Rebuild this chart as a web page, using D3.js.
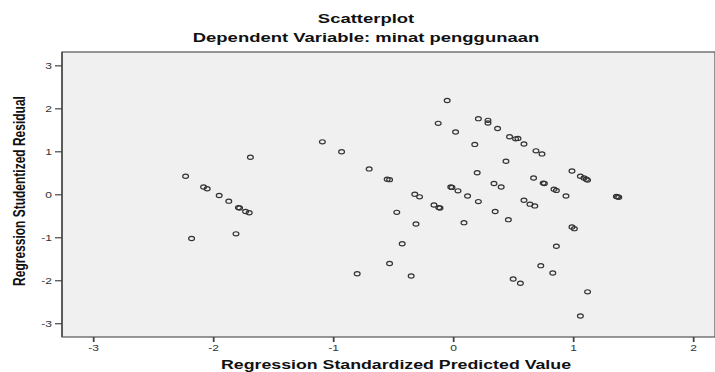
<!DOCTYPE html>
<html>
<head>
<meta charset="utf-8">
<script src="https://cdn.jsdelivr.net/npm/d3@7"></script>
<style>
  body { margin: 0; background: #fff; }
  svg text { font-family: "Liberation Sans", Arial, sans-serif; }
</style>
</head>
<body>
<svg id="chart" width="715" height="372"></svg>
<script>
// standardized predicted value (x) / studentized residual (y)
const predicted = [
  -2.23, -1.69, -2.08, -2.05, -1.95, -1.87, -1.79, -1.78, -1.73, -1.70, -2.18, -1.81,
  -1.09, -0.93, -0.70, -0.55, -0.53, -0.32, -0.28, -0.16, -0.12, -0.11, -0.47, -0.31,
  -0.425, -0.53, -0.80, -0.35,
  -0.05, -0.125, 0.02, 0.18, 0.21, 0.29, 0.29, 0.37, 0.20, -0.02, -0.01, 0.04, 0.12,
  0.21, 0.09, 0.34, 0.40, 0.35, 0.44, 0.46,
  0.47, 0.52, 0.54, 0.59, 0.69, 0.74, 0.67, 0.75, 0.76, 0.84, 0.86, 0.94, 0.99, 1.06,
  1.09, 1.11, 1.12, 1.36, 1.37, 1.38, 0.59, 0.64, 0.68, 0.99, 1.01, 0.86, 0.73, 0.83,
  0.50, 0.56, 1.12, 1.06
];
const residual = [
  0.42, 0.86, 0.17, 0.13, -0.03, -0.16, -0.31, -0.32, -0.40, -0.43, -1.03, -0.92,
  1.22, 0.99, 0.59, 0.35, 0.34, 0.00, -0.06, -0.25, -0.31, -0.32, -0.42, -0.69,
  -1.15, -1.61, -1.85, -1.90,
  2.18, 1.65, 1.45, 1.16, 1.76, 1.72, 1.66, 1.53, 0.50, 0.17, 0.16, 0.08, -0.04,
  -0.17, -0.66, 0.25, 0.17, -0.40, 0.77, -0.59,
  1.34, 1.29, 1.30, 1.17, 1.01, 0.94, 0.38, 0.26, 0.25, 0.12, 0.09, -0.04, 0.54, 0.42,
  0.38, 0.35, 0.33, -0.05, -0.06, -0.07, -0.14, -0.23, -0.27, -0.76, -0.80, -1.21, -1.66, -1.83,
  -1.97, -2.07, -2.27, -2.83
];
const xTicks = [-3, -2, -1, 0, 1, 2];
const yTicks = [-3, -2, -1, 0, 1, 2, 3];

const svg = d3.select("#chart");
const plot = {left: 62, right: 715, top: 52, bottom: 337};
const stretch = 1.42; // the original picture is widened horizontally

const x = d3.scaleLinear().domain([-3.26, 2.182]).range([plot.left, plot.right]);
const y = d3.scaleLinear().domain([-3.32, 3.31]).range([plot.bottom, plot.top]);

function label(px, py, txt, size, rot) {
  return svg.append("text")
    .attr("transform", `translate(${px},${py}) scale(${stretch},1)` + (rot ? ` rotate(${rot})` : ""))
    .attr("text-anchor", "middle").attr("font-size", size).attr("font-weight", "bold")
    .attr("fill", "#111").text(txt);
}

// titles
label(366, 23, "Scatterplot", 13);
label(366, 42, "Dependent Variable: minat penggunaan", 13);

// plot area
svg.append("rect").attr("x", plot.left).attr("y", plot.top)
  .attr("width", plot.right - plot.left).attr("height", plot.bottom - plot.top)
  .attr("fill", "#f0f0f0").attr("stroke", "#555").attr("stroke-width", 1.2);
svg.append("line").attr("x1", plot.left).attr("x2", plot.left)
  .attr("y1", plot.top).attr("y2", plot.bottom).attr("stroke", "#555").attr("stroke-width", 1.8);

// axes
const xAxis = svg.append("g").attr("transform", `translate(0,${plot.bottom})`)
  .call(d3.axisBottom(x).tickValues(xTicks).tickFormat(d => String(d)).tickSize(5).tickSizeOuter(0));
const yAxis = svg.append("g").attr("transform", `translate(${plot.left},0)`)
  .call(d3.axisLeft(y).tickValues(yTicks).tickFormat(d => String(d)).tickSize(7).tickSizeOuter(0));
[xAxis, yAxis].forEach(g => {
  g.select(".domain").remove();
  g.selectAll(".tick text").attr("font-size", 8.5).attr("fill", "#333")
    .style("font-family", "Liberation Sans, Arial, sans-serif");
});
xAxis.selectAll(".tick line").attr("stroke", "#444").attr("stroke-width", 1.8);
yAxis.selectAll(".tick line").attr("stroke", "#444").attr("stroke-width", 1.2);
xAxis.selectAll(".tick text").attr("y", 0).attr("dy", 0)
  .attr("transform", `translate(0,14) scale(${stretch},1)`);
yAxis.selectAll(".tick text").attr("x", 0).attr("dy", "0.35em")
  .attr("transform", `translate(-10,0) scale(${stretch},1)`);

// axis titles
label(396, 369, "Regression Standardized Predicted Value", 12.5);
label(25, 191, "Regression Studentized Residual", 12, -90);

// points
svg.append("g").selectAll("ellipse")
  .data(d3.range(predicted.length))
  .join("ellipse")
  .attr("cx", i => x(predicted[i]))
  .attr("cy", i => y(residual[i]))
  .attr("rx", 2.9)
  .attr("ry", 2.1)
  .attr("fill", "none")
  .attr("stroke", "#333")
  .attr("stroke-width", 1.2);
</script>
</body>
</html>
